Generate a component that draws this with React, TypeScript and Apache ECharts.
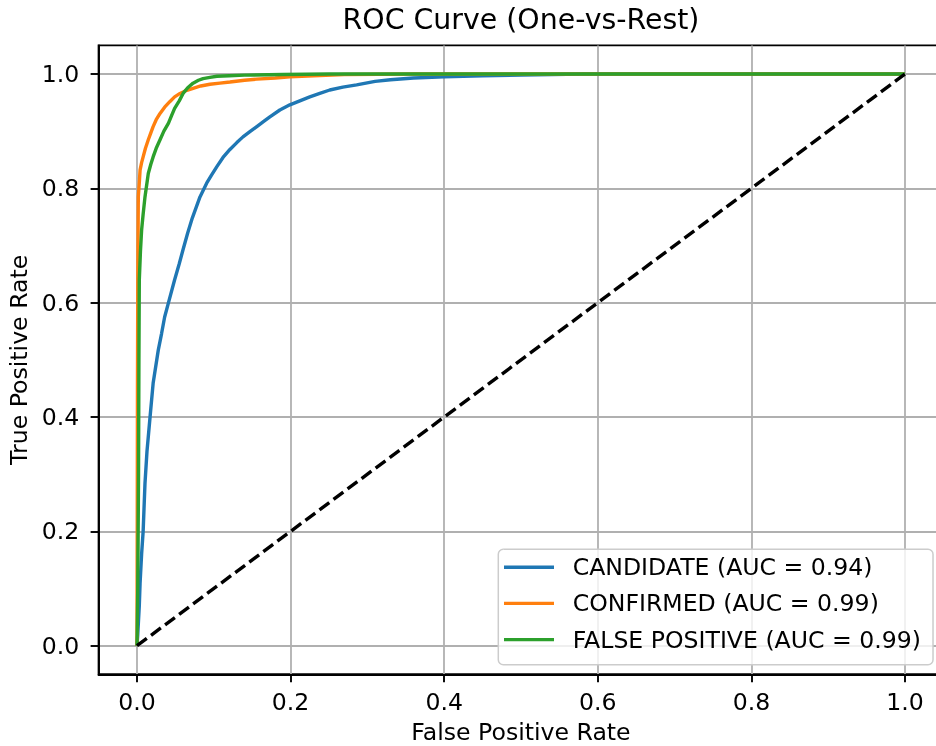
import React, { useEffect, useRef } from "react";
import * as echarts from "echarts";

const FONT = "DejaVu Sans";

const titleText = "ROC Curve (One-vs-Rest)";
const xAxisTitle = "False Positive Rate";
const yAxisTitle = "True Positive Rate";
const tickValues = [0, 0.2, 0.4, 0.6, 0.8, 1.0];

const seriesNames = [
  "CANDIDATE (AUC = 0.94)",
  "CONFIRMED (AUC = 0.99)",
  "FALSE POSITIVE (AUC = 0.99)",
];
const seriesColors = ["#1f77b4", "#ff7f0e", "#2ca02c"];

const candidateFpr = [
  0, 0.001, 0.003, 0.004, 0.006, 0.008, 0.0104, 0.013, 0.017, 0.021, 0.0277,
  0.032, 0.036, 0.041, 0.049, 0.055, 0.06, 0.066, 0.072, 0.082, 0.0907, 0.097,
  0.104, 0.112, 0.121, 0.13, 0.138, 0.147, 0.156, 0.165, 0.173, 0.186, 0.199,
  0.212, 0.225, 0.238, 0.251, 0.268, 0.286, 0.31, 0.33, 0.36, 0.4, 0.45, 0.5,
  0.58, 1.0,
];
const candidateTpr = [
  0, 0.02, 0.07, 0.109, 0.16, 0.2, 0.284, 0.34, 0.4, 0.459, 0.517, 0.546,
  0.575, 0.6, 0.64, 0.668, 0.693, 0.722, 0.748, 0.785, 0.809, 0.823, 0.838,
  0.854, 0.868, 0.88, 0.89, 0.899, 0.908, 0.917, 0.925, 0.937, 0.946, 0.953,
  0.96, 0.966, 0.972, 0.977, 0.981, 0.987, 0.99, 0.993, 0.995, 0.997, 0.998,
  1.0, 1.0,
];

const confirmedFpr = [
  0, 0.0003, 0.0006, 0.001, 0.0013, 0.0017, 0.003, 0.004, 0.006, 0.008, 0.011,
  0.0147, 0.018, 0.021, 0.025, 0.03, 0.036, 0.043, 0.049, 0.056, 0.064, 0.073,
  0.083, 0.095, 0.108, 0.121, 0.14, 0.156, 0.18, 0.199, 0.23, 0.27, 0.36, 1.0,
];
const confirmedTpr = [
  0, 0.2, 0.45, 0.62, 0.7, 0.785, 0.81, 0.832, 0.845, 0.855, 0.87, 0.885,
  0.897, 0.908, 0.92, 0.931, 0.942, 0.952, 0.96, 0.966, 0.971, 0.975, 0.979,
  0.982, 0.984, 0.986, 0.989, 0.991, 0.993, 0.995, 0.997, 0.999, 1.0, 1.0,
];

const falsePosFpr = [
  0, 0.001, 0.002, 0.0025, 0.003, 0.0045, 0.006, 0.008, 0.0104, 0.0147, 0.018,
  0.021, 0.025, 0.03, 0.035, 0.041, 0.045, 0.049, 0.055, 0.06, 0.066, 0.073,
  0.08, 0.086, 0.095, 0.104, 0.12, 0.14, 0.19, 0.25, 1.0,
];
const falsePosTpr = [
  0, 0.1, 0.3, 0.5, 0.64, 0.69, 0.727, 0.755, 0.785, 0.826, 0.842, 0.855,
  0.87, 0.885, 0.9, 0.914, 0.927, 0.94, 0.953, 0.966, 0.976, 0.984, 0.989,
  0.992, 0.994, 0.996, 0.997, 0.998, 0.999, 1.0, 1.0,
];

const chanceFpr = [0, 1];
const chanceTpr = [0, 1];

const zip = (xs: number[], ys: number[]) => xs.map((x, i) => [x, ys[i]]);

export default function App() {
  const ref = useRef<HTMLDivElement>(null);

  useEffect(() => {
    if (!ref.current) return;
    const chart = echarts.init(ref.current, undefined, { renderer: "svg" });
    const curves = [
      zip(candidateFpr, candidateTpr),
      zip(confirmedFpr, confirmedTpr),
      zip(falsePosFpr, falsePosTpr),
    ];
    const axisCommon = {
      type: "value" as const,
      min: -0.05,
      max: 1.05,
      axisLine: {
        show: true,
        onZero: false,
        lineStyle: { color: "#000", width: 1.9 },
      },
      axisTick: {
        show: true,
        customValues: tickValues,
        length: 8,
        inside: false,
        lineStyle: { color: "#000", width: 1.9 },
      },
      axisLabel: {
        customValues: tickValues,
        formatter: (v: number) => v.toFixed(1),
        color: "#000",
        fontSize: 23.6,
        fontFamily: FONT,
      },
      splitLine: { show: true, lineStyle: { color: "#b0b0b0", width: 1.8 } },
      nameLocation: "middle" as const,
      nameTextStyle: { color: "#000", fontSize: 23.6, fontFamily: FONT },
    };
    chart.setOption({
      animation: false,
      title: {
        text: titleText,
        left: 521,
        top: 5,
        textAlign: "center",
        padding: 0,
        textStyle: {
          color: "#000",
          fontSize: 28.4,
          fontWeight: "normal",
          fontFamily: FONT,
          lineHeight: 28,
        },
      },
      grid: {
        left: 98.6,
        top: 45.4,
        width: 844.8,
        height: 628.9,
        show: true,
        borderColor: "#000",
        borderWidth: 1.9,
        backgroundColor: "transparent",
        containLabel: false,
        outerBoundsMode: "none",
      },
      legend: {
        data: seriesNames,
        orient: "vertical",
        left: 498.3,
        top: 549.3,
        align: "left",
        icon: "rect",
        itemWidth: 50,
        itemHeight: 3.4,
        itemGap: 12.2,
        padding: [5.9, 12, 13.1, 5.7],
        backgroundColor: "rgba(255,255,255,0.8)",
        borderColor: "#cccccc",
        borderWidth: 1.5,
        borderRadius: 5,
        textStyle: {
          color: "#000",
          fontSize: 23.6,
          lineHeight: 23.3,
          fontFamily: FONT,
          padding: [0, 0, 0, 13.7],
        },
      },
      xAxis: {
        ...axisCommon,
        name: xAxisTitle,
        nameGap: 46,
        axisLabel: { ...axisCommon.axisLabel, margin: 15.3 },
      },
      yAxis: {
        ...axisCommon,
        name: yAxisTitle,
        nameGap: 67,
        nameRotate: 90,
        axisLabel: { ...axisCommon.axisLabel, margin: 19.3 },
      },
      series: [
        ...curves.map((d, i) => ({
          name: seriesNames[i],
          type: "line",
          data: d,
          symbol: "none",
          showSymbol: false,
          color: seriesColors[i],
          lineStyle: { width: 3.4, color: seriesColors[i] },
          silent: true,
        })),
        {
          name: "chance",
          type: "line",
          data: zip(chanceFpr, chanceTpr),
          symbol: "none",
          showSymbol: false,
          color: "#000",
          lineStyle: { width: 3.4, color: "#000", type: [12.2, 5.3] },
          silent: true,
        },
      ],
    });
    return () => chart.dispose();
  }, []);

  return (
    <div
      ref={ref}
      style={{ position: "fixed", left: 0, top: 0, width: 936, height: 746 }}
    />
  );
}
